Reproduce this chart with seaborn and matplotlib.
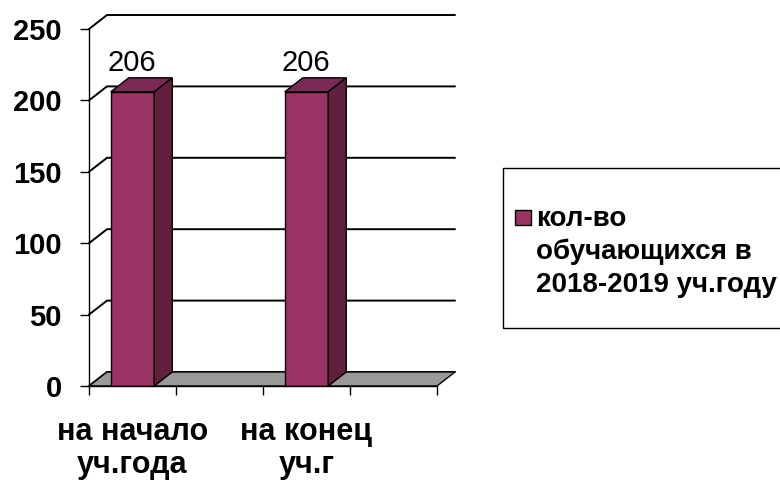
import numpy as np
import pandas as pd
import matplotlib
matplotlib.use("Agg")
import matplotlib.pyplot as plt
from matplotlib.patches import Polygon, Rectangle
import seaborn as sns

# data
slot_order = ["start", "gap1", "end", "gap2"]
x_labels = ["на начало\nуч.года", "", "на конец\nуч.г", ""]
period = ["start", "end"]
counts = [206, 206]
series_name = "кол-во\nобучающихся в\n2018-2019 уч.году"
yticks = [0, 50, 100, 150, 200, 250]

# colours (excel plum)
front = "#993366"
top_col = "#7a2a55"
side_col = "#62203f"
floor_col = "#999999"
depth_px = (18, 14)

sns.set_style("white")
plt.rcParams["font.family"] = ["Liberation Sans", "DejaVu Sans"]
plt.rcParams["text.color"] = "black"
plt.rcParams["xtick.color"] = "black"
plt.rcParams["ytick.color"] = "black"

df = pd.DataFrame({"period": period, "count": counts})

fig = plt.figure(figsize=(7.8, 4.82), dpi=100)
ax = fig.add_axes([89 / 780, 1 - 386 / 482, 348 / 780, 357 / 482])
ax.set_facecolor("none")

sns.barplot(data=df, x="period", y="count", order=slot_order, width=0.5,
            color=front, saturation=1, edgecolor="black", linewidth=1, ax=ax)
bars = [p for p in ax.patches if np.isfinite(p.get_height()) and p.get_height() > 0]

ax.set_xlim(-0.5, len(slot_order) - 0.5)
ax.set_ylim(yticks[0], yticks[-1])
x0, x1 = ax.get_xlim()

# pixel depth -> data units
inv = ax.transData.inverted()
origin = ax.transData.transform((0, 0))
dxd, dyd = inv.transform(origin + np.array(depth_px))

# back wall gridlines
for y in yticks:
    ax.plot([x0, x0 + dxd, x1 + dxd], [y, y + dyd, y + dyd], color="black",
            lw=1.4, clip_on=False, zorder=1)

# floor
ax.add_patch(Polygon([(x0, 0), (x1, 0), (x1 + dxd, dyd), (x0 + dxd, dyd)],
                     closed=True, fc=floor_col, ec="black", lw=1,
                     clip_on=False, zorder=2))

for p in bars:
    p.set_zorder(3)
    x, w, h = p.get_x(), p.get_width(), p.get_height()
    ax.add_patch(Polygon([(x, h), (x + w, h), (x + w + dxd, h + dyd), (x + dxd, h + dyd)],
                         closed=True, fc=top_col, ec="black", lw=1, zorder=3, clip_on=False))
    ax.add_patch(Polygon([(x + w, 0), (x + w + dxd, dyd), (x + w + dxd, h + dyd), (x + w, h)],
                         closed=True, fc=side_col, ec="black", lw=1, zorder=3, clip_on=False))
    ax.annotate(f"{h:.0f}", (x + w / 2, h), xytext=(-1, depth_px[1] + 1),
                textcoords="offset pixels", ha="center", va="bottom", fontsize=21)

# axes / ticks
sns.despine(ax=ax, top=True, right=True)
for s in ["left", "bottom"]:
    ax.spines[s].set_color("black")
    ax.spines[s].set_linewidth(1)
    ax.spines[s].set_zorder(4)

ax.set_yticks(yticks)
ax.set_yticklabels([str(v) for v in yticks], fontsize=21, fontweight="bold")
ax.tick_params(axis="y", which="major", left=True, length=6.5, width=1,
               color="black", pad=13, direction="out")

ax.set_xticks(np.arange(len(slot_order) + 1) - 0.5)
ax.set_xticklabels([])
ax.set_xticks(np.arange(len(slot_order)), minor=True)
ax.set_xticklabels(x_labels, minor=True, fontsize=22, fontweight="bold",
                   linespacing=1.17)
ax.tick_params(axis="x", which="major", bottom=True, length=6.5, width=1,
               color="black", direction="out")
ax.tick_params(axis="x", which="minor", bottom=False, length=0, pad=22)
ax.set_xlabel("")
ax.set_ylabel("")

# legend box (drawn by hand so the swatch sits on the first line)
W, H = 780, 482
fig.add_artist(Rectangle((503 / W, 1 - 328 / H), 300 / W, 160 / H,
                         transform=fig.transFigure, fill=False, ec="black", lw=1))
fig.add_artist(Rectangle((515 / W, 1 - 225 / H), 16 / W, 15 / H,
                         transform=fig.transFigure, fc=front, ec="black", lw=1))
fig.text(536 / W, 1 - 206 / H, series_name, ha="left", va="top", fontsize=20,
         fontweight="bold", linespacing=1.33)

fig.savefig("out.png", dpi=100, facecolor="white")
